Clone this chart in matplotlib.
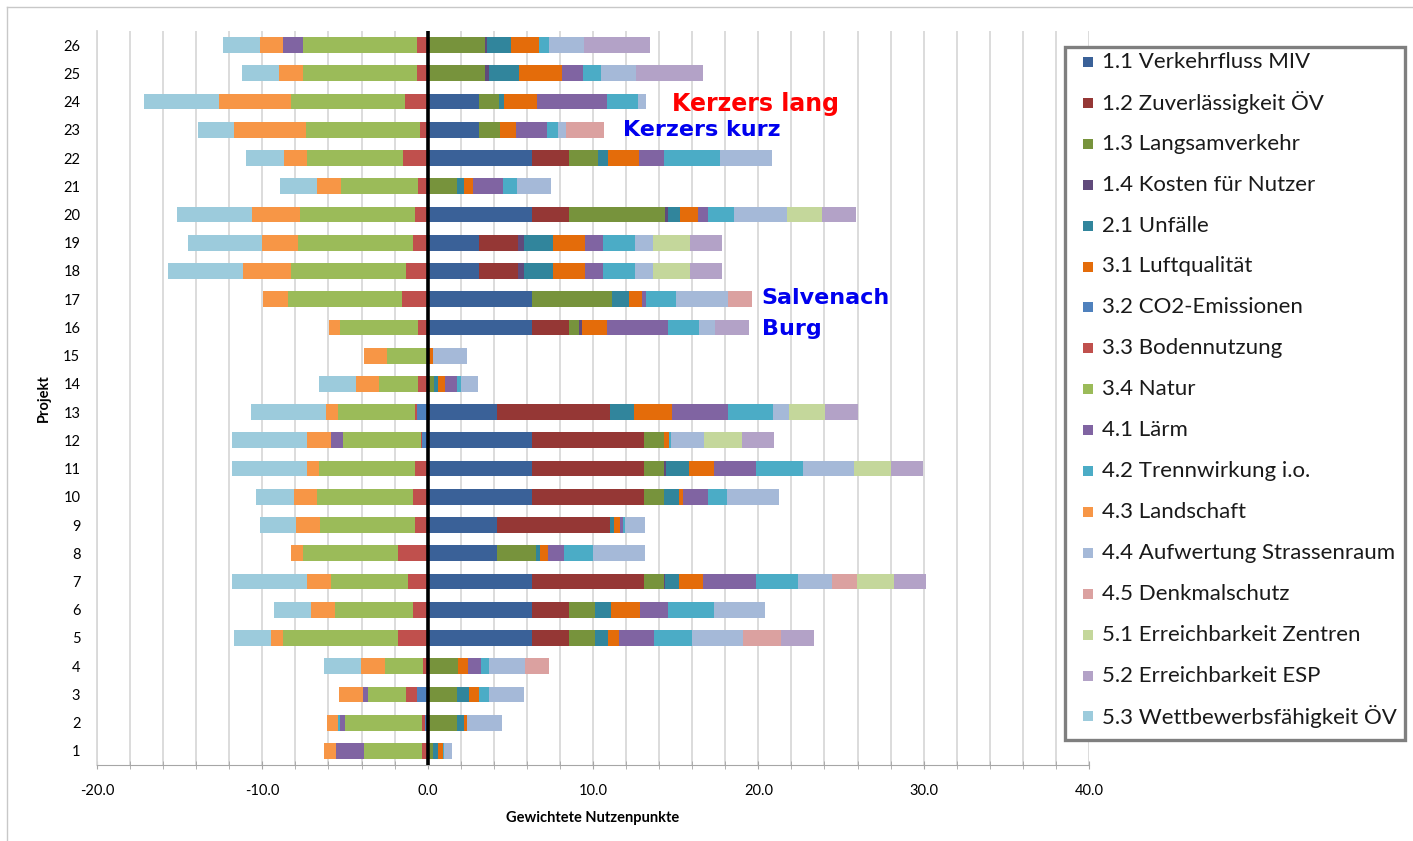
import numpy as np
import matplotlib
matplotlib.use("Agg")
import matplotlib.pyplot as plt
from matplotlib.patches import Rectangle
from matplotlib.lines import Line2D

plt.rcParams['font.family'] = ['Lato', 'DejaVu Sans']

# projects 1..26
projects = list(range(1, 27))

labels = ["1.1 Verkehrfluss MIV", "1.2 Zuverlässigkeit ÖV", "1.3 Langsamverkehr",
          "1.4 Kosten für Nutzer", "2.1 Unfälle", "3.1 Luftqualität",
          "3.2 CO2-Emissionen", "3.3 Bodennutzung", "3.4 Natur", "4.1 Lärm",
          "4.2 Trennwirkung i.o.", "4.3 Landschaft", "4.4 Aufwertung Strassenraum",
          "4.5 Denkmalschutz", "5.1 Erreichbarkeit Zentren", "5.2 Erreichbarkeit ESP",
          "5.3 Wettbewerbsfähigkeit ÖV"]

colors = ["#3a6198", "#953735", "#77933c", "#604a7b", "#31859c", "#e46c0a",
          "#4f81bd", "#c0504d", "#9bbb59", "#8064a2", "#4bacc6", "#f79646",
          "#a5b9d8", "#dba1a0", "#c4d79b", "#b3a2c7", "#9ccbdc"]

# weighted points per criterion, project 1 .. 26
c11 = [0, 0, 0, 0, 6.31, 6.31, 6.31, 4.19, 4.19, 6.31, 6.31, 6.31, 4.19,
       0, 0, 6.31, 6.31, 3.13, 3.13, 6.31, 0, 6.31, 3.13, 3.13, 0, 0]
c12 = [0, 0, 0, 0, 2.26, 2.26, 6.79, 0, 6.85, 6.79, 6.79, 6.79, 6.83,
       0, 0, 2.26, 0, 2.32, 2.32, 2.26, 0, 2.22, 0, 0, 0, 0]
c13 = [0.35, 1.75, 1.75, 1.85, 1.55, 1.55, 1.17, 2.36, 0, 1.17, 1.17, 1.21, 0,
       0.36, 0, 0.6, 4.84, 0, 0, 5.81, 1.75, 1.75, 1.25, 1.21, 3.49, 3.49]
c14 = [0, 0, 0, 0, 0, 0, 0.1, 0, 0, 0, 0.14, 0, 0,
       0, 0, 0.14, 0, 0.4, 0.4, 0.14, 0, 0, 0, 0, 0.2, 0.1]
c21 = [0.3, 0.42, 0.77, 0, 0.81, 0.97, 0.85, 0.26, 0.24, 0.95, 1.41, 0, 1.47,
       0.28, 0, 0, 1.05, 1.75, 1.75, 0.77, 0.46, 0.65, 0, 0.26, 1.85, 1.45]
c31 = [0.25, 0.2, 0.56, 0.56, 0.67, 1.75, 1.45, 0.44, 0.36, 0.24, 1.47, 0.3, 2.26,
       0.4, 0.3, 1.51, 0.75, 1.94, 1.94, 1.05, 0.54, 1.88, 0.97, 2.0, 2.58, 1.67]
c32 = [0, -0.16, -0.66, 0, 0, 0, 0, 0, 0, 0, 0, -0.32, -0.66,
       0, 0, 0, 0, 0, 0, 0, 0, 0, 0, 0, 0, 0]
c33 = [-0.32, -0.16, -0.66, -0.3, -1.77, -0.9, -1.21, -1.77, -0.74, -0.86, -0.76, -0.1, -0.1,
       -0.56, 0, -0.6, -1.55, -1.33, -0.9, -0.78, -0.6, -1.49, -0.48, -1.37, -0.62, -0.62]
c34 = [-3.56, -4.66, -2.29, -2.31, -6.95, -4.72, -4.66, -5.79, -5.79, -5.85, -5.83, -4.68, -4.68,
       -2.37, -2.43, -4.68, -6.91, -6.91, -6.97, -6.97, -4.64, -5.79, -6.9, -6.9, -6.9, -6.9]
c41 = [-1.67, -0.3, -0.32, 0.81, 2.08, 1.67, 3.19, 1.01, 0.2, 1.47, 2.56, -0.76, 3.39,
       0.72, 0, 3.69, 0.26, 1.09, 1.09, 0.6, 1.81, 1.47, 1.88, 4.25, 1.29, -1.2]
c42 = [0.1, -0.14, 0.65, 0.5, 2.3, 2.82, 2.52, 1.77, 0.1, 1.17, 2.86, 0.1, 2.72,
       0.24, 0, 1.88, 1.81, 1.92, 1.92, 1.61, 0.87, 3.43, 0.65, 1.85, 1.07, 0.6]
c43 = [-0.7, -0.66, -1.41, -1.41, -0.74, -1.41, -1.41, -0.68, -1.41, -1.37, -0.68, -1.41, -0.72,
       -1.39, -1.41, -0.7, -1.47, -2.91, -2.17, -2.85, -1.45, -1.41, -4.36, -4.38, -1.47, -1.43]
c44 = [0.5, 2.1, 2.08, 2.16, 3.08, 3.08, 2.08, 3.13, 1.2, 3.13, 3.08, 2.02, 1.01,
       1.07, 2.1, 0.99, 3.13, 1.07, 1.07, 3.17, 2.02, 3.1, 0.5, 0.5, 2.12, 2.16]
c45 = [0, 0, 0, 1.43, 2.32, 0, 1.51, 0, 0, 0, 0, 0, 0,
       0, 0, 0, 1.47, 0, 0, 0, 0, 0, 2.28, 0, 0, 0]
c51 = [0, 0, 0, 0, 0, 0, 2.22, 0, 0, 0, 2.22, 2.26, 2.18,
       0, 0, 0, 0, 2.22, 2.22, 2.14, 0, 0, 0, 0, 0, 0]
c52 = [0, 0, 0, 0, 1.98, 0, 1.95, 0, 0, 0, 1.93, 1.98, 1.96,
       0, 0, 2.04, 0, 1.96, 1.96, 2.06, 0, 0, 0, 0, 4.03, 3.97]
c53 = [0, 0, 0, -2.27, -2.25, -2.27, -4.54, 0, -2.21, -2.29, -4.54, -4.54, -4.5,
       -2.23, 0, 0, 0, -4.54, -4.48, -4.56, -2.25, -2.27, -2.17, -4.48, -2.27, -2.25]

series = [c11, c12, c13, c14, c21, c31, c32, c33, c34, c41, c42, c43, c44, c45, c51, c52, c53]

W, H = 1413, 841
fig = plt.figure(figsize=(W / 100, H / 100), dpi=100)
ax = fig.add_axes([97 / W, 1 - 765 / H, (1089 - 97) / W, (765 - 31) / H])

y = np.array(projects)
pos_left = np.zeros(len(y))
neg_left = np.zeros(len(y))
for vals, col in zip(series, colors):
    v = np.array(vals, dtype=float)
    p = np.where(v > 0, v, 0)
    n = np.where(v < 0, v, 0)
    # positives stack to the right, negatives to the left (like Excel)
    ax.barh(y, p, left=pos_left, height=0.56, color=col, edgecolor='none', zorder=2)
    ax.barh(y, n, left=neg_left, height=0.56, color=col, edgecolor='none', zorder=2)
    pos_left += p
    neg_left += n

ax.axvline(0, color='black', lw=2.6, zorder=3)

ax.set_xlim(-20, 40)
ax.set_ylim(0.5, 26.5)
ax.set_xticks(np.arange(-20, 41, 10))
ax.set_xticks(np.arange(-20, 41, 2), minor=True)
ax.set_xticklabels(["%.1f" % t for t in np.arange(-20, 41, 10)])
ax.set_yticks(y)
ax.set_yticklabels([str(p) for p in projects])
ax.grid(axis='x', which='both', color='#d9d9d9', lw=1.3, zorder=0)
ax.set_axisbelow(True)

for s in ['top', 'right']:
    ax.spines[s].set_visible(False)
ax.spines['left'].set_color('#d9d9d9')
ax.spines['left'].set_linewidth(1.3)
ax.spines['bottom'].set_color('#a6a6a6')

ax.tick_params(axis='x', which='both', direction='inout', length=6, color='#a6a6a6',
               labelsize=10.5, pad=11)
ax.tick_params(axis='y', length=0, labelsize=10.5, pad=12)

ax.set_xlabel("Gewichtete Nutzenpunkte", fontsize=10.5, fontweight='bold', labelpad=9)
ax.set_ylabel("Projekt", fontsize=10.5, fontweight='bold', labelpad=9)

# annotations
ann = dict(fontweight='bold', family=['DejaVu Sans'], va='center', ha='left', zorder=5)
ax.text(14.8, 23.9, "Kerzers lang", color='red', fontsize=17, **ann)
ax.text(11.8, 23.0, "Kerzers kurz", color='#0000ee', fontsize=16, **ann)
ax.text(20.2, 17.05, "Salvenach", color='#0000ee', fontsize=16, **ann)
ax.text(20.2, 15.95, "Burg", color='#0000ee', fontsize=16, **ann)

# legend, drawn by hand
fig.add_artist(Rectangle((1065 / W, 1 - 740 / H), (1405 - 1065) / W, (740 - 47) / H,
                         transform=fig.transFigure, facecolor='white', edgecolor='#7f7f7f',
                         lw=2.4, zorder=4))
for i, (lab, col) in enumerate(zip(labels, colors)):
    yc = 62 + i * 40.9
    fig.add_artist(Rectangle((1083 / W, 1 - (yc + 5) / H), 10 / W, 10 / H,
                             transform=fig.transFigure, facecolor=col, edgecolor='none',
                             zorder=5))
    fig.text(1102 / W, 1 - yc / H, lab, fontsize=16, va='center', ha='left', zorder=5,
             color='#1a1a1a')

# outer frame lines
fig.add_artist(Line2D([7 / W, 7 / W], [0, 1 - 7 / H], transform=fig.transFigure,
                      color='#c8c8c8', lw=1))
fig.add_artist(Line2D([7 / W, 1], [1 - 7 / H, 1 - 7 / H], transform=fig.transFigure,
                      color='#c8c8c8', lw=1))

fig.savefig("out.png", dpi=100)
